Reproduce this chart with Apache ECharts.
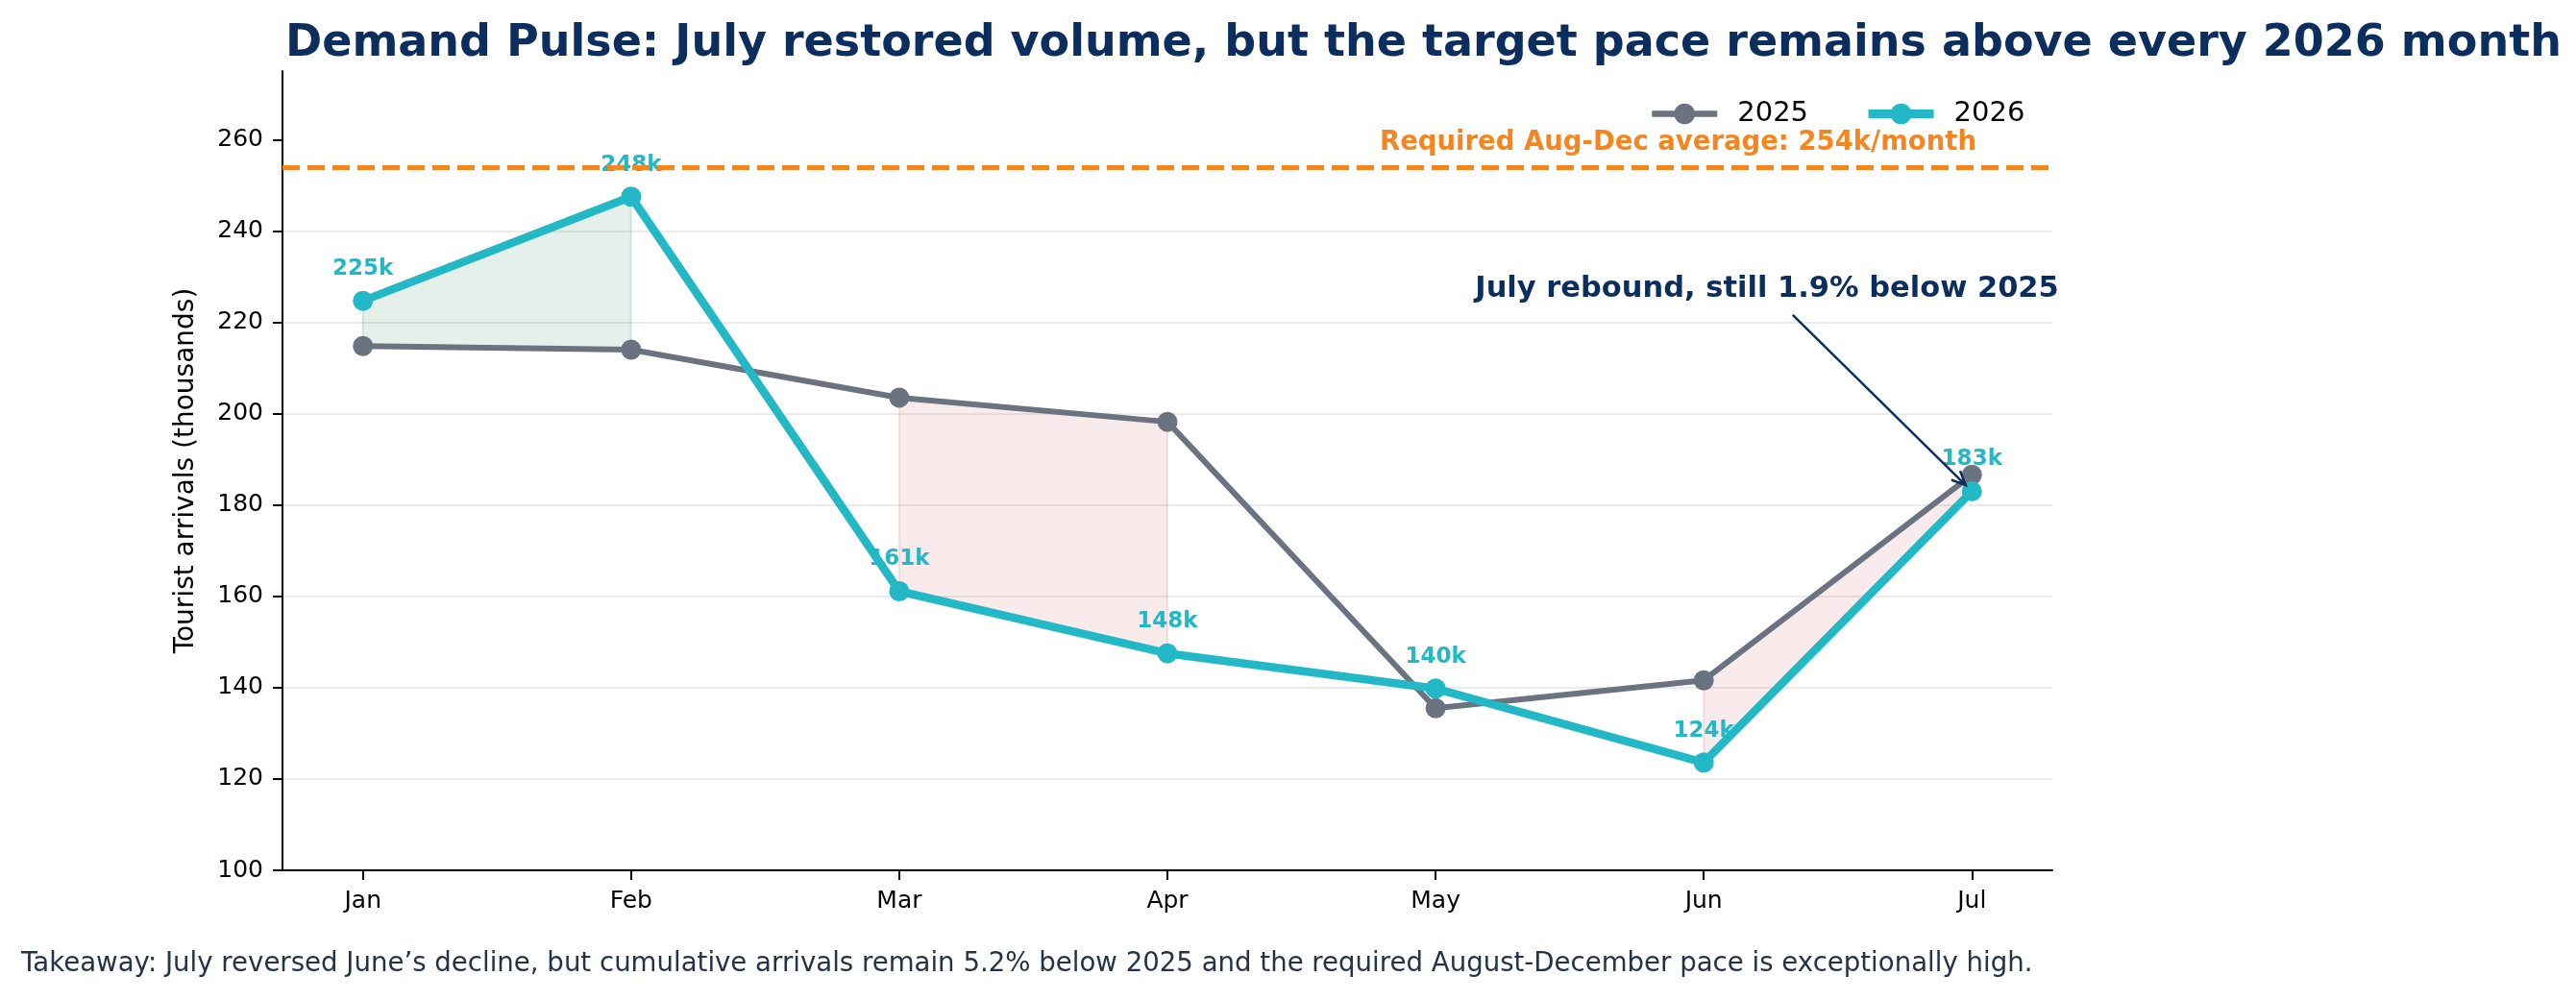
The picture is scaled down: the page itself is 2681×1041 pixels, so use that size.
<!DOCTYPE html>
<html>
<head>
<meta charset="utf-8">
<script src="https://cdn.jsdelivr.net/npm/echarts@6/dist/echarts.min.js"></script>
<style>
  html, body { margin: 0; padding: 0; background: #fff; }
  #chart { width: 2681px; height: 1041px; }
</style>
</head>
<body>
<div id="chart"></div>
<script>
// values (thousands of arrivals)
const months = ['Jan', 'Feb', 'Mar', 'Apr', 'May', 'Jun', 'Jul']
const arrivals2025 = [214.8, 214.0, 203.5, 198.2, 135.5, 141.6, 186.6]
const arrivals2026 = [224.7, 247.5, 161.1, 147.5, 139.8, 123.6, 183.0]
const yTicks = [100, 120, 140, 160, 180, 200, 220, 240, 260]
const monthIdx = [0, 1, 2, 3, 4, 5, 6]
const requiredPace = 254

const FONT = 'DejaVu Sans'
const NAVY = '#0b2e5e'
const GRAY = '#6b7280'
const CYAN = '#22b8c6'
const ORANGE = '#f5861f'

// matplotlib-style fill_between (no interpolation): a segment is filled only
// when both of its end points are on the same side
const fillSegments = []
for (let i = 0; i < months.length - 1; i++) {
  const aheadA = arrivals2026[i] >= arrivals2025[i]
  const aheadB = arrivals2026[i + 1] >= arrivals2025[i + 1]
  if (aheadA === aheadB) fillSegments.push([i, aheadA ? 1 : 0])
}

const chart = echarts.init(document.getElementById('chart'))

const option = {
  animation: false,
  backgroundColor: '#fff',
  textStyle: { fontFamily: FONT },
  title: {
    text: 'Demand Pulse: July restored volume, but the target pace remains above every 2026 month',
    left: 292,
    top: 18,
    textStyle: { fontFamily: FONT, fontSize: 46, fontWeight: 'bold', color: NAVY }
  },
  legend: {
    left: 1711,
    top: 99,
    itemWidth: 68,
    itemHeight: 27,
    itemGap: 58,
    textStyle: { fontFamily: FONT, fontSize: 29, color: '#000', padding: [0, 0, 0, 16] },
    data: [
      { name: '2025', lineStyle: { width: 6.5 } },
      { name: '2026', lineStyle: { width: 9 } }
    ]
  },
  grid: { left: 294, right: 545, top: 74, bottom: 135 },
  xAxis: {
    type: 'value',
    min: -0.3,
    max: 6.3,
    splitLine: { show: false },
    axisLine: { onZero: false, lineStyle: { color: '#000', width: 2 } },
    axisTick: { show: true, length: 10, customValues: monthIdx, lineStyle: { color: '#000', width: 2 } },
    axisLabel: {
      customValues: monthIdx,
      formatter: v => months[v],
      fontFamily: FONT, fontSize: 25, color: '#000', margin: 20
    }
  },
  yAxis: {
    type: 'value',
    min: 100,
    max: 275,
    interval: 20,
    name: 'Tourist arrivals (thousands)',
    nameLocation: 'middle',
    nameGap: 86,
    nameTextStyle: { fontFamily: FONT, fontSize: 28, color: '#000' },
    axisLine: { show: true, onZero: false, lineStyle: { color: '#000', width: 2 } },
    axisTick: { show: true, length: 10, customValues: yTicks, lineStyle: { color: '#000', width: 2 } },
    axisLabel: { customValues: yTicks, fontFamily: FONT, fontSize: 25, color: '#000', margin: 20 },
    splitLine: { show: true, showMinLine: false, showMaxLine: false, lineStyle: { color: '#ebebeb', width: 2 } }
  },
  series: [
    {
      name: 'gap',
      type: 'custom',
      silent: true,
      z: 1,
      data: fillSegments,
      renderItem: (params, api) => {
        const i = api.value(0)
        const ahead = api.value(1) === 1
        const pts = [
          api.coord([i, arrivals2025[i]]),
          api.coord([i + 1, arrivals2025[i + 1]]),
          api.coord([i + 1, arrivals2026[i + 1]]),
          api.coord([i, arrivals2026[i]])
        ]
        return {
          type: 'polygon',
          shape: { points: pts },
          style: {
            fill: ahead ? 'rgba(46,139,87,0.13)' : 'rgba(200,60,60,0.10)',
            stroke: ahead ? 'rgba(46,139,87,0.16)' : 'rgba(200,60,60,0.13)',
            lineWidth: 2
          }
        }
      }
    },
    {
      name: '2025',
      type: 'line',
      z: 3,
      data: arrivals2025.map((v, i) => [i, v]),
      symbol: 'circle',
      symbolSize: 21,
      color: GRAY,
      lineStyle: { color: GRAY, width: 6 },
      itemStyle: { color: GRAY },
      markLine: {
        silent: true,
        symbol: 'none',
        label: { show: false },
        lineStyle: { color: ORANGE, width: 5, type: [18, 8] },
        data: [{ yAxis: requiredPace }]
      }
    },
    {
      name: '2026',
      type: 'line',
      z: 4,
      data: arrivals2026.map((v, i) => [i, v]),
      symbol: 'circle',
      symbolSize: 21,
      color: CYAN,
      lineStyle: { color: CYAN, width: 8.5 },
      itemStyle: { color: CYAN },
      label: {
        show: true,
        position: 'top',
        distance: 11,
        formatter: p => Math.round(p.value[1]) + 'k',
        fontFamily: FONT,
        fontSize: 23,
        fontWeight: 'bold',
        color: CYAN
      }
    }
  ]
}

chart.setOption(option)

// annotations anchored to data coordinates
function drawAnnotations() {
  const px = (x, y) => chart.convertToPixel({ gridIndex: 0 }, [x, y])
  const paceLabel = px(6.017, 259.3)
  const noteText = px(5.236, 227.3)
  const arrowFrom = px(5.332, 221.6)
  const target = px(6, arrivals2026[6])
  const dx = target[0] - arrowFrom[0]
  const dy = target[1] - arrowFrom[1]
  const len = Math.sqrt(dx * dx + dy * dy)
  const ux = dx / len
  const uy = dy / len
  const tip = [target[0] - ux * 9, target[1] - uy * 9]
  const head = 16
  const ang = 0.42
  const rot = (a) => [
    tip[0] - head * (ux * Math.cos(a) - uy * Math.sin(a)),
    tip[1] - head * (uy * Math.cos(a) + ux * Math.sin(a))
  ]
  const h1 = rot(ang)
  const h2 = rot(-ang)

  chart.setOption({
    graphic: [
      {
        type: 'text',
        x: paceLabel[0], y: paceLabel[1],
        style: {
          text: 'Required Aug-Dec average: 254k/month',
          fontFamily: FONT, fontSize: 27.5, fontWeight: 'bold', fill: ORANGE,
          align: 'right', verticalAlign: 'middle'
        },
        z: 10
      },
      {
        type: 'text',
        x: noteText[0], y: noteText[1],
        style: {
          text: 'July rebound, still 1.9% below 2025',
          fontFamily: FONT, fontSize: 30.5, fontWeight: 'bold', fill: NAVY,
          align: 'center', verticalAlign: 'middle'
        },
        z: 10
      },
      {
        type: 'line',
        shape: { x1: arrowFrom[0], y1: arrowFrom[1], x2: tip[0], y2: tip[1] },
        style: { stroke: NAVY, lineWidth: 2.5 },
        z: 10
      },
      {
        type: 'polyline',
        shape: { points: [h1, tip, h2] },
        style: { stroke: NAVY, lineWidth: 2.5, fill: null },
        z: 10
      },
      {
        type: 'text',
        x: 22, y: 1004,
        style: {
          text: 'Takeaway: July reversed June\u2019s decline, but cumulative arrivals remain 5.2% below 2025 and the required August-December pace is exceptionally high.',
          fontFamily: FONT, fontSize: 27.6, fill: '#243447',
          align: 'left', verticalAlign: 'middle'
        },
        z: 10
      }
    ]
  })
}

drawAnnotations()
window.addEventListener('resize', () => { chart.resize(); drawAnnotations() })
</script>
</body>
</html>
